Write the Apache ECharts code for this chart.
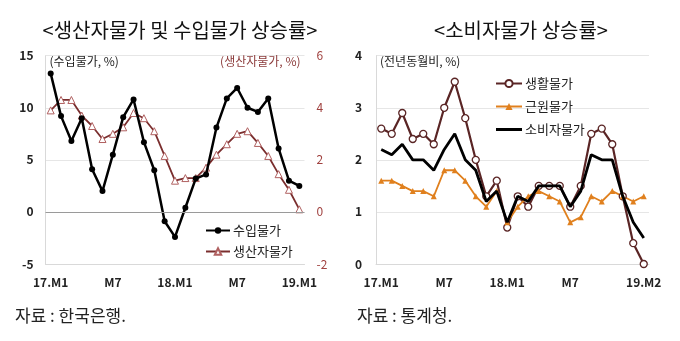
<!DOCTYPE html>
<html><head><meta charset="utf-8">
<script src="https://cdn.jsdelivr.net/npm/echarts@6/dist/echarts.min.js"></script>
<style>html,body{margin:0;padding:0;background:#fff}#c{width:680px;height:341px}</style>
</head><body><div id="c"></div>
<script>
// Left chart: 17.M1 .. 19.M1
const catsL = ['17.M1','17.M2','17.M3','17.M4','17.M5','17.M6','17.M7','17.M8','17.M9','17.M10','17.M11','17.M12',
  '18.M1','18.M2','18.M3','18.M4','18.M5','18.M6','18.M7','18.M8','18.M9','18.M10','18.M11','18.M12','19.M1'];
const importPrice = [13.3,9.2,6.8,9.0,4.1,2.0,5.5,9.1,10.8,6.7,4.0,-0.9,-2.4,0.4,3.2,3.6,8.1,10.9,11.9,10.0,9.6,10.9,6.1,3.0,2.5];
const producerPrice = [3.9,4.3,4.3,3.7,3.3,2.8,3.0,3.25,3.8,3.6,3.1,2.15,1.2,1.3,1.3,1.7,2.2,2.6,3.0,3.1,2.65,2.15,1.45,0.85,0.1];
const tickIdxL = [0,6,12,18,24];
const tickTextL = ['17.M1','M7','18.M1','M7','19.M1'];

// Right chart: 17.M1 .. 19.M2
const catsR = ['17.M1','17.M2','17.M3','17.M4','17.M5','17.M6','17.M7','17.M8','17.M9','17.M10','17.M11','17.M12',
  '18.M1','18.M2','18.M3','18.M4','18.M5','18.M6','18.M7','18.M8','18.M9','18.M10','18.M11','18.M12','19.M1','19.M2'];
const livingPrice = [2.6,2.5,2.9,2.4,2.5,2.3,3.0,3.5,2.8,2.0,1.3,1.6,0.7,1.3,1.1,1.5,1.5,1.5,1.1,1.5,2.5,2.6,2.3,1.3,0.4,0.0];
const corePrice = [1.6,1.6,1.5,1.4,1.4,1.3,1.8,1.8,1.6,1.3,1.1,1.4,0.8,1.1,1.3,1.4,1.3,1.2,0.8,0.9,1.3,1.2,1.4,1.3,1.2,1.3];
const cpi = [2.2,2.1,2.3,2.0,2.0,1.8,2.2,2.5,2.0,1.8,1.2,1.4,0.8,1.3,1.2,1.5,1.5,1.5,1.1,1.4,2.1,2.0,2.0,1.3,0.8,0.5];
const tickIdxR = [0,6,12,18,25];
const tickTextR = ['17.M1','M7','18.M1','M7','19.M2'];

const KR = '"Noto Sans CJK KR", sans-serif';
const chart = echarts.init(document.getElementById('c'), null, {renderer:'canvas'});

function xAxisFor(gi, cats, idx, txt){
  return {
    type:'category', gridIndex:gi, data:cats, boundaryGap:true,
    axisLine:{show:true, onZero:false, lineStyle:{color:'#d9d9d9'}},
    axisTick:{show:false},
    axisLabel:{
      interval:(i)=>idx.indexOf(i)>=0,
      formatter:(v,i)=>{const k=idx.indexOf(i);return k>=0?txt[k]:'';},
      color:'#222', fontFamily:KR, fontWeight:'bold', fontSize:12, margin:12
    },
    splitLine:{show:false}
  };
}

const option = {
  animation:false,
  backgroundColor:'#fff',
  title:[
    {text:'<생산자물가 및 수입물가 상승률>', left:175, top:15, textAlign:'center',
     textStyle:{fontFamily:KR, fontSize:20, fontWeight:'normal', color:'#111'}},
    {text:'<소비자물가 상승률>', left:516, top:15, textAlign:'center',
     textStyle:{fontFamily:KR, fontSize:20, fontWeight:'normal', color:'#111'}},
    {text:'자료 : 한국은행.', left:10, top:302, textStyle:{fontFamily:KR, fontSize:17, fontWeight:'normal', color:'#222'}},
    {text:'자료 : 통계청.', left:352, top:302, textStyle:{fontFamily:KR, fontSize:17, fontWeight:'normal', color:'#222'}}
  ],
  grid:[
    {left:45.5, top:55.7, width:259, height:208.3, containLabel:false},
    {left:376, top:55.7, width:273, height:208.3, containLabel:false}
  ],
  xAxis:[ xAxisFor(0,catsL,tickIdxL,tickTextL), xAxisFor(1,catsR,tickIdxR,tickTextR) ],
  yAxis:[
    {type:'value', gridIndex:0, min:-5, max:15, interval:5, position:'left',
     name:'(수입물가, %)', nameLocation:'end', nameGap:-12,
     nameTextStyle:{fontFamily:KR, fontSize:12, color:'#222', align:'left', padding:[0,0,0,4]},
     axisLine:{show:true, lineStyle:{color:'#d9d9d9'}}, axisTick:{show:false},
     axisLabel:{fontFamily:KR, fontWeight:'bold', fontSize:12, color:'#222', margin:12},
     splitLine:{show:true, lineStyle:{color:'#e6e6e6'}}},
    {type:'value', gridIndex:0, min:-2, max:6, interval:2, position:'right',
     name:'(생산자물가, %)', nameLocation:'end', nameGap:-12,
     nameTextStyle:{fontFamily:KR, fontSize:12, color:'#8b3a3a', align:'right', padding:[0,4,0,0]},
     axisLine:{show:false}, axisTick:{show:false},
     axisLabel:{fontFamily:KR, fontSize:12, color:'#a0413f', margin:12},
     splitLine:{show:false}},
    {type:'value', gridIndex:1, min:0, max:4, interval:1, position:'left',
     name:'(전년동월비, %)', nameLocation:'end', nameGap:-12,
     nameTextStyle:{fontFamily:KR, fontSize:12, color:'#222', align:'left', padding:[0,0,0,4]},
     axisLine:{show:true, lineStyle:{color:'#d9d9d9'}}, axisTick:{show:false},
     axisLabel:{fontFamily:KR, fontWeight:'bold', fontSize:12, color:'#222', margin:14},
     splitLine:{show:true, lineStyle:{color:'#e6e6e6'}}}
  ],
  legend:[
    {left:200, top:219, orient:'vertical', itemGap:8, itemWidth:24, itemHeight:8,
     data:['수입물가','생산자물가'],
     textStyle:{fontFamily:KR, fontSize:13, color:'#222', padding:[0,0,0,-2]}},
    {left:490, top:72, orient:'vertical', itemGap:10, itemWidth:26, itemHeight:9,
     data:['생활물가','근원물가',{name:'소비자물가', icon:'path://M0,0 L26,0 L26,3 L0,3 Z'}],
     textStyle:{fontFamily:KR, fontSize:13, color:'#222', padding:[0,0,0,-2]}}
  ],
  series:[
    {name:'수입물가', type:'line', xAxisIndex:0, yAxisIndex:0, data:importPrice,
     symbol:'circle', symbolSize:6, showAllSymbol:true,
     lineStyle:{color:'#000', width:2.5}, itemStyle:{color:'#000'},
     z:3,
     markLine:{silent:true, symbol:'none', label:{show:false},
       lineStyle:{color:'#9a9a9a', width:1, type:'solid'}, data:[{yAxis:0}]}},
    {name:'생산자물가', type:'line', xAxisIndex:0, yAxisIndex:1, data:producerPrice,
     symbol:'triangle', symbolSize:7, showAllSymbol:true,
     lineStyle:{color:'#7a2e2e', width:1.8}, itemStyle:{color:'#fff', borderColor:'#b06060', borderWidth:1},
     z:2},
    {name:'생활물가', type:'line', xAxisIndex:1, yAxisIndex:2, data:livingPrice,
     symbol:'circle', symbolSize:7, showAllSymbol:true,
     lineStyle:{color:'#5a2525', width:2.2}, itemStyle:{color:'#fff', borderColor:'#5a2525', borderWidth:1.3},
     z:2},
    {name:'근원물가', type:'line', xAxisIndex:1, yAxisIndex:2, data:corePrice,
     symbol:'triangle', symbolSize:6, showAllSymbol:true,
     lineStyle:{color:'#e0801e', width:1.8}, itemStyle:{color:'#e0801e'},
     z:2},
    {name:'소비자물가', type:'line', xAxisIndex:1, yAxisIndex:2, data:cpi,
     symbol:'none', lineStyle:{color:'#000', width:2.8}, itemStyle:{color:'#000'},
     z:3}
  ]
};
chart.setOption(option);
</script>
</body></html>
